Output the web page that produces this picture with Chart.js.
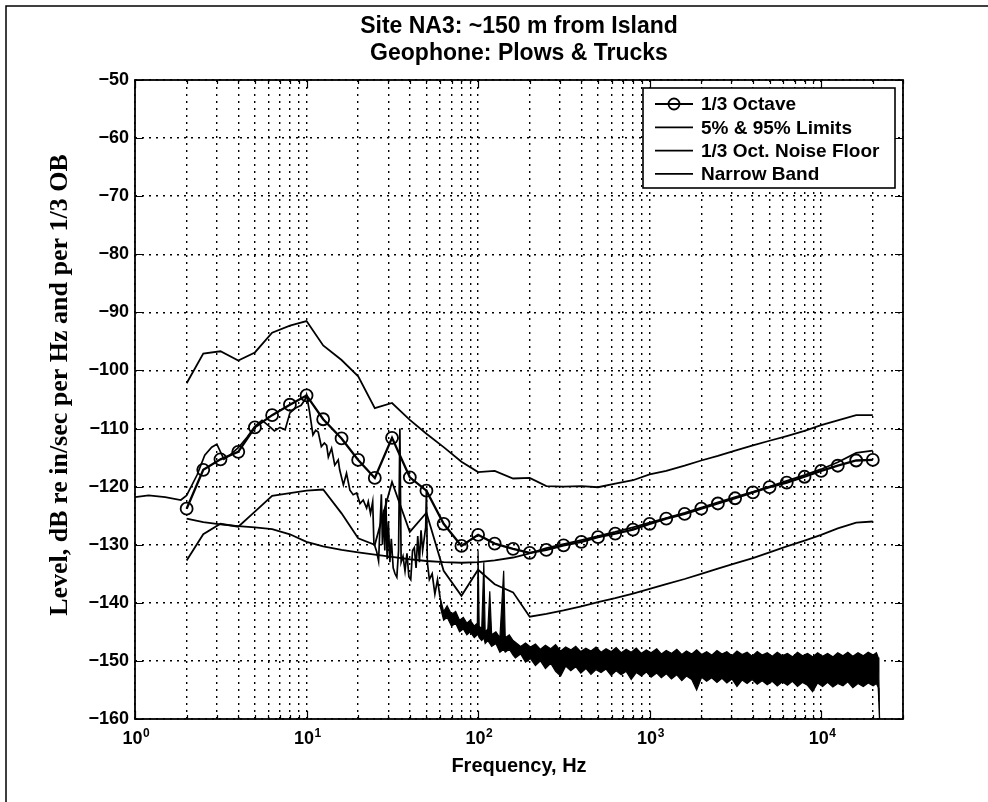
<!DOCTYPE html>
<html lang="en">
<head>
<meta charset="UTF-8">
<title>Site NA3: ~150 m from Island</title>
<script src="https://cdn.jsdelivr.net/npm/chart.js"></script>
<style>
  html, body { margin: 0; padding: 0; background: #fff; }
  canvas { display: block; }
</style>
</head>
<body>
<canvas id="geoChart" width="988" height="802"></canvas>
<script>
// 1/3 octave band centre frequencies, Hz
const bandFreq = [2, 2.5, 3.15, 4, 5, 6.3, 8, 10, 12.5, 16, 20, 25, 31.5, 40, 50, 63, 80, 100, 125, 160,
  200, 250, 315, 400, 500, 630, 800, 1000, 1250, 1600, 2000, 2500, 3150, 4000, 5000, 6300, 8000, 10000,
  12500, 16000, 20000];

// levels, dB re in/sec
const thirdOctave = [-123.8, -117.1, -115.3, -114.0, -109.8, -107.7, -105.9, -104.3, -108.4, -111.7,
  -115.4, -118.5, -111.6, -118.4, -120.7, -126.4, -130.2, -128.3, -129.8, -130.7, -131.4, -130.9, -130.1,
  -129.5, -128.7, -128.1, -127.4, -126.4, -125.5, -124.7, -123.8, -122.9, -122.0, -121.0, -120.1, -119.3,
  -118.3, -117.3, -116.4, -115.5, -115.4];
const upper95 = [-102.2, -97.1, -96.7, -98.3, -96.9, -93.5, -92.3, -91.5, -95.7, -98.2, -101.0, -106.5,
  -105.6, -108.5, -110.9, -113.2, -115.7, -117.5, -117.3, -118.6, -118.5, -119.9, -120.0, -119.9, -120.1,
  -119.5, -118.9, -117.9, -117.3, -116.4, -115.5, -114.7, -113.8, -112.9, -112.1, -111.3, -110.4, -109.4,
  -108.6, -107.7, -107.7];
const lower5 = [-132.7, -128.2, -126.4, -126.9, -124.3, -121.6, -121.1, -120.7, -120.5, -124.6, -128.9,
  -130.0, -119.2, -127.8, -124.5, -134.5, -138.8, -134.3, -136.8, -138.2, -142.4, -141.9, -141.3, -140.6,
  -139.9, -139.2, -138.4, -137.6, -136.8, -135.9, -135.0, -134.1, -133.2, -132.3, -131.3, -130.3, -129.3,
  -128.3, -127.2, -126.2, -126.0];
const noiseFloor = [-125.5, -126.1, -126.5, -126.8, -127.0, -127.3, -128.2, -129.5, -130.3, -130.9, -131.3,
  -131.7, -132.1, -132.5, -132.8, -133.0, -133.1, -133.0, -132.7, -132.2, -131.5, -130.6, -129.9, -129.2,
  -128.5, -127.8, -127.0, -126.2, -125.4, -124.5, -123.6, -122.7, -121.8, -120.9, -120.0, -119.0, -118.0,
  -117.0, -115.8, -114.2, -113.8];

// narrow band spectrum, 1 - 60 Hz
const nbFreq = [1, 1.2, 1.5, 1.85, 2, 2.3, 2.55, 2.8, 3, 3.3, 3.6, 4, 4.5, 5, 5.5, 6, 6.5, 7, 7.5, 8, 8.7,
  9.3, 9.8, 10, 10.4, 10.9, 11.3, 11.7, 12.2, 12.7, 13.1, 13.4, 14, 14.6, 15.3, 15.6, 16.4, 17.1, 17.9,
  18.7, 19.6, 20.5, 21.4, 22.4, 22.9, 23.6, 24.3, 24.7, 25.6, 26.3, 26.8, 27.3, 27.7, 28.2, 28.6, 29,
  29.5, 30, 30.6, 31.2, 32, 32.8, 33.6, 34.4, 35, 35.6, 36.5, 37.5, 38.5, 39.5, 40.5, 41.5, 42.5, 43.5,
  44.5, 45.5, 46.5, 47.5, 48.5, 49.5, 50, 50.6, 52, 54, 56, 58, 60];
const nbLevel = [-121.8, -121.5, -121.8, -122.3, -121.5, -118.0, -114.6, -113.2, -112.7, -115.3, -114.5,
  -113.3, -111.5, -109.6, -108.6, -109.5, -110.4, -109.8, -110.2, -107.3, -106.4, -106.0, -105.0, -104.2,
  -107.0, -111.1, -110.3, -110.6, -113.1, -112.5, -112.9, -114.9, -113.4, -116.3, -115.4, -117.1, -119.7,
  -117.7, -120.6, -121.4, -121.1, -122.9, -122.3, -123.7, -122.6, -124.6, -122.6, -129.7, -131.1, -132.8,
  -127.0, -121.3, -130.0, -124.0, -131.0, -122.0, -132.5, -126.0, -133.0, -129.0, -134.0, -135.0, -135.6,
  -131.0, -110.0, -133.0, -132.0, -134.5, -131.5, -135.5, -136.0, -131.0, -130.5, -134.0, -128.5, -133.0,
  -127.5, -131.0, -129.0, -127.0, -120.5, -133.0, -136.0, -135.0, -138.5, -136.0, -139.0];

// narrow band spectrum above 60 Hz, where the trace is dense: upper and lower edge
const nbBandFreq = [60, 63, 66, 70, 74, 78, 82, 86, 90, 95, 99, 100, 101.5, 105, 108, 110, 114, 117, 120,
  127, 134, 141, 144, 152, 160, 165, 177, 189, 202, 216, 231, 247, 265, 283, 303, 324, 347, 371, 397, 425,
  455, 487, 521, 557, 596, 638, 683, 730, 781, 836, 895, 957, 1020, 1100, 1170, 1250, 1340, 1440, 1540,
  1640, 1760, 1880, 2010, 2150, 2300, 2470, 2640, 2820, 3020, 3230, 3460, 3700, 3960, 4240, 4530, 4850,
  5190, 5550, 5940, 6360, 6800, 7280, 7790, 8330, 8920, 9540, 10200, 10900, 11700, 12500, 13400, 14300,
  15300, 16400, 17600, 18800, 20100, 21000, 21500, 21700, 21900];
const nbBandTop = [-139.0, -141.5, -140.5, -142.0, -141.5, -143.0, -142.5, -143.5, -143.0, -144.0, -143.5,
  -131.0, -144.0, -144.5, -133.0, -145.0, -144.5, -138.0, -145.5, -145.0, -146.0, -134.5, -146.0, -145.5,
  -146.5, -146.8, -147.5, -146.9, -147.6, -147.1, -148.0, -147.3, -147.9, -147.2, -148.3, -147.6, -148.1,
  -147.5, -148.4, -147.8, -148.3, -147.6, -148.5, -147.9, -148.4, -147.7, -148.6, -148.0, -148.5, -147.8,
  -148.7, -148.1, -148.6, -147.9, -148.8, -148.2, -148.7, -148.0, -148.9, -148.3, -148.8, -148.1, -148.9,
  -148.4, -149.0, -148.2, -148.8, -148.4, -149.1, -148.3, -148.9, -148.5, -149.2, -148.4, -149.0, -148.6,
  -149.2, -148.5, -149.1, -148.7, -149.3, -148.5, -149.1, -148.7, -149.3, -148.6, -149.2, -148.7, -149.3,
  -148.6, -149.1, -148.5, -149.2, -148.6, -149.1, -148.5, -149.0, -148.6, -149.4, -153.0, -160.0];
const nbBandBottom = [-140.5, -143.0, -142.5, -144.0, -143.5, -145.0, -144.5, -145.5, -145.0, -146.0,
  -145.5, -145.5, -146.0, -146.5, -146.0, -147.0, -146.5, -147.0, -147.5, -147.0, -148.5, -148.0, -148.5,
  -148.0, -149.0, -149.5, -148.8, -150.2, -149.6, -150.8, -150.0, -151.3, -150.4, -151.8, -152.6, -150.9,
  -151.7, -151.0, -152.1, -151.3, -152.3, -151.5, -152.0, -151.4, -152.5, -151.7, -152.4, -151.8, -153.2,
  -152.0, -152.6, -151.9, -152.8, -152.1, -152.9, -152.2, -153.1, -152.4, -153.4, -152.6, -153.2, -155.0,
  -152.8, -153.5, -152.9, -153.7, -153.0, -153.8, -153.1, -154.4, -153.3, -153.9, -153.2, -154.0, -153.4,
  -154.1, -153.5, -154.3, -153.6, -154.2, -153.5, -154.4, -153.7, -154.2, -155.3, -153.8, -154.4, -153.7,
  -154.5, -153.9, -154.3, -153.6, -154.6, -153.9, -154.4, -153.8, -154.3, -153.9, -154.6, -157.0, -160.0];

const xTicks = [1, 2, 3, 4, 5, 6, 7, 8, 9, 10, 20, 30, 40, 50, 60, 70, 80, 90, 100, 200, 300, 400, 500,
  600, 700, 800, 900, 1000, 2000, 3000, 4000, 5000, 6000, 7000, 8000, 9000, 10000, 20000, 30000];
const xDecades = [1, 10, 100, 1000, 10000];
const xExponents = ['0', '1', '2', '3', '4'];
const yTicks = [-160, -150, -140, -130, -120, -110, -100, -90, -80, -70, -60, -50];
const legendLabels = ['1/3 Octave', '5% & 95% Limits', '1/3 Oct. Noise Floor', 'Narrow Band'];
const yTitle = 'Level, dB re in/sec per Hz and per 1/3 OB';

const pts = (xs, ys) => xs.map((x, i) => ({x: x, y: ys[i]}));
const sans = "'Liberation Sans', Arial, sans-serif";
const serif = "'Liberation Serif', 'Times New Roman', serif";

// axes box, inward ticks, decade exponents, y label, figure edge
const framePlugin = {
  id: 'frame',
  afterDraw(chart) {
    const {ctx, chartArea: a, scales} = chart;
    ctx.save();
    ctx.strokeStyle = '#000';
    ctx.lineWidth = 1.2;
    ctx.beginPath();
    xTicks.forEach(v => {
      const px = Math.round(scales.x.getPixelForValue(v)) + 0.5;
      const len = xDecades.includes(v) ? 8 : 4;
      ctx.moveTo(px, a.bottom); ctx.lineTo(px, a.bottom - len);
      ctx.moveTo(px, a.top); ctx.lineTo(px, a.top + len);
    });
    yTicks.forEach(v => {
      const py = Math.round(scales.y.getPixelForValue(v)) + 0.5;
      ctx.moveTo(a.left, py); ctx.lineTo(a.left + 8, py);
      ctx.moveTo(a.right, py); ctx.lineTo(a.right - 8, py);
    });
    ctx.stroke();

    ctx.lineWidth = 1.8;
    ctx.strokeRect(a.left, a.top, a.right - a.left, a.bottom - a.top);

    ctx.lineWidth = 1.5;
    ctx.beginPath();
    ctx.moveTo(6, 802); ctx.lineTo(6, 6); ctx.lineTo(988, 6);
    ctx.stroke();

    // exponents of the decade labels
    ctx.fillStyle = '#000';
    ctx.font = 'bold 18px ' + sans;
    const wBase = ctx.measureText('10').width;
    const wFull = ctx.measureText('10 ').width;
    ctx.font = 'bold 12px ' + sans;
    ctx.textBaseline = 'alphabetic';
    ctx.textAlign = 'left';
    xDecades.forEach((v, i) => {
      const px = scales.x.getPixelForValue(v);
      ctx.fillText(xExponents[i], px - wFull / 2 + wBase + 0.5, a.bottom + 18);
    });

    // y axis title
    ctx.font = 'bold 26px ' + serif;
    ctx.textAlign = 'center';
    ctx.textBaseline = 'middle';
    ctx.translate(60, 385);
    ctx.rotate(-Math.PI / 2);
    ctx.fillText(yTitle, 0, 0);
    ctx.restore();
  }
};

// legend box drawn inside the axes, top right
const legendPlugin = {
  id: 'boxLegend',
  afterDatasetsDraw(chart) {
    const ctx = chart.ctx;
    const x0 = 643, y0 = 88, w = 252, h = 100;
    ctx.save();
    ctx.fillStyle = '#fff';
    ctx.fillRect(x0, y0, w, h);
    ctx.strokeStyle = '#000';
    ctx.lineWidth = 1.6;
    ctx.strokeRect(x0, y0, w, h);
    ctx.font = 'bold 19px ' + sans;
    ctx.fillStyle = '#000';
    ctx.textBaseline = 'middle';
    legendLabels.forEach((txt, i) => {
      const y = y0 + 16 + i * 23.3;
      ctx.lineWidth = i === 0 ? 2.2 : 1.8;
      ctx.beginPath();
      ctx.moveTo(x0 + 12, y);
      ctx.lineTo(x0 + 50, y);
      ctx.stroke();
      if (i === 0) {
        ctx.lineWidth = 1.8;
        ctx.beginPath();
        ctx.arc(x0 + 31, y, 5.5, 0, Math.PI * 2);
        ctx.stroke();
      }
      ctx.fillText(txt, x0 + 58, y + 1);
    });
    ctx.restore();
  }
};

const ctx = document.getElementById('geoChart').getContext('2d');
new Chart(ctx, {
  type: 'line',
  data: {
    datasets: [
      {
        label: '1/3 Octave',
        data: pts(bandFreq, thirdOctave),
        borderColor: '#000',
        borderWidth: 2.3,
        pointRadius: 6,
        pointBorderWidth: 1.8,
        pointBorderColor: '#000',
        pointBackgroundColor: 'rgba(0,0,0,0)'
      },
      {
        label: '95% Limit',
        data: pts(bandFreq, upper95),
        borderColor: '#000',
        borderWidth: 1.8,
        pointRadius: 0
      },
      {
        label: '5% Limit',
        data: pts(bandFreq, lower5),
        borderColor: '#000',
        borderWidth: 1.8,
        pointRadius: 0
      },
      {
        label: '1/3 Oct. Noise Floor',
        data: pts(bandFreq, noiseFloor),
        borderColor: '#000',
        borderWidth: 1.8,
        pointRadius: 0
      },
      {
        label: 'Narrow Band',
        data: pts(nbFreq, nbLevel),
        borderColor: '#000',
        borderWidth: 1.7,
        pointRadius: 0
      },
      {
        label: 'Narrow Band upper edge',
        data: pts(nbBandFreq, nbBandTop),
        borderColor: '#000',
        borderWidth: 1.2,
        pointRadius: 0,
        backgroundColor: '#000',
        fill: '+1'
      },
      {
        label: 'Narrow Band lower edge',
        data: pts(nbBandFreq, nbBandBottom),
        borderColor: '#000',
        borderWidth: 1.2,
        pointRadius: 0
      }
    ]
  },
  options: {
    responsive: false,
    animation: false,
    events: [],
    devicePixelRatio: 1,
    layout: { padding: { left: 0, right: 85, top: 0, bottom: 0 } },
    plugins: {
      legend: { display: false },
      tooltip: { enabled: false },
      title: {
        display: true,
        fullSize: false,
        text: ['Site NA3: ~150 m from Island', 'Geophone: Plows & Trucks'],
        color: '#000',
        font: { family: sans, size: 23, weight: 'bold', lineHeight: 1.174 },
        padding: { top: 13.5, bottom: 12.5 }
      }
    },
    scales: {
      x: {
        type: 'logarithmic',
        min: 1,
        max: 30000,
        afterBuildTicks: scale => { scale.ticks = xTicks.map(v => ({value: v})); },
        afterFit: scale => { scale.height = 83; },
        grid: { color: '#000', lineWidth: 1.4, drawTicks: false },
        border: { display: false, dash: [2, 5] },
        ticks: {
          autoSkip: false,
          maxRotation: 0,
          padding: 9,
          color: '#000',
          font: { family: sans, size: 18, weight: 'bold' },
          callback: v => (xDecades.includes(v) ? '10 ' : '')
        },
        title: {
          display: true,
          text: 'Frequency, Hz',
          color: '#000',
          font: { family: sans, size: 20, weight: 'bold' },
          padding: { top: 0, bottom: 24 }
        }
      },
      y: {
        min: -160,
        max: -50,
        afterBuildTicks: scale => { scale.ticks = yTicks.map(v => ({value: v})); },
        afterFit: scale => { scale.width = 135; },
        grid: { color: '#000', lineWidth: 1.4, drawTicks: false },
        border: { display: false, dash: [2, 5] },
        ticks: {
          padding: 6,
          color: '#000',
          font: { family: sans, size: 18, weight: 'bold' },
          callback: v => '\u2212' + Math.abs(v)
        }
      }
    }
  },
  plugins: [framePlugin, legendPlugin]
});
</script>
</body>
</html>
